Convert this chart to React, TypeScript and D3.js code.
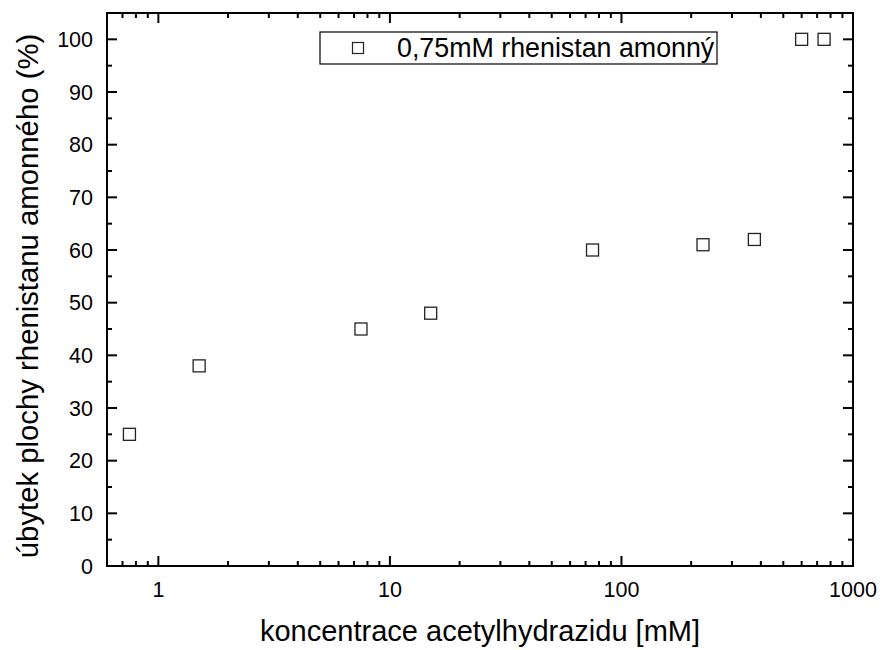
import React from "react";
import * as d3 from "d3";

const concentrations = [0.75, 1.5, 7.5, 15, 75, 225, 375, 600, 750];
const decreases = [25, 38, 45, 48, 60, 61, 62, 100, 100];
const yTicks = [0, 10, 20, 30, 40, 50, 60, 70, 80, 90, 100];
const xTickLabels = [1, 10, 100, 1000];
const legendLabel = "0,75mM rhenistan amonný";
const xTitle = "koncentrace acetylhydrazidu [mM]";
const yTitle = "úbytek plochy rhenistanu amonného (%)";

export default function App() {
  const W = 882, H = 650;
  const L = 107, R = 853, T = 13, B = 566;
  const x = d3.scaleLog().domain([0.6, 1000]).range([L, R]);
  const y = d3.scaleLinear().domain([0, 105]).range([B, T]);
  const font = "'Liberation Sans', Arial, sans-serif";

  const minorX: number[] = [];
  for (let d = 0.1; d < 1000; d *= 10) {
    for (let k = 2; k <= 9; k++) {
      const v = +(d * k).toPrecision(3);
      if (v >= 0.6 && v <= 1000) minorX.push(v);
    }
  }
  const minorY = d3.range(5, 105, 10);
  const ms = 12;

  return (
    <svg width={W} height={H} style={{ display: "block", position: "absolute", left: 0, top: 0 }}>
      <rect x={0} y={0} width={W} height={H} fill="#fff" />
      {xTickLabels.map((v) => (
        <g key={"xt" + v}>
          <line x1={x(v)} x2={x(v)} y1={B} y2={B - 10} stroke="#000" strokeWidth={2} />
          <line x1={x(v)} x2={x(v)} y1={T} y2={T + 10} stroke="#000" strokeWidth={2} />
          <text x={x(v)} y={597} textAnchor="middle" fontFamily={font} fontSize={21.5}>{v}</text>
        </g>
      ))}
      {minorX.map((v) => (
        <g key={"xm" + v}>
          <line x1={x(v)} x2={x(v)} y1={B} y2={B - 5} stroke="#000" strokeWidth={2} />
          <line x1={x(v)} x2={x(v)} y1={T} y2={T + 5} stroke="#000" strokeWidth={2} />
        </g>
      ))}
      {yTicks.map((v) => (
        <g key={"yt" + v}>
          <line x1={L} x2={L + 10} y1={y(v)} y2={y(v)} stroke="#000" strokeWidth={2} />
          <line x1={R} x2={R - 10} y1={y(v)} y2={y(v)} stroke="#000" strokeWidth={2} />
          <text x={L - 14} y={y(v) + 7.5} textAnchor="end" fontFamily={font} fontSize={21.5}>{v}</text>
        </g>
      ))}
      {minorY.map((v) => (
        <g key={"ym" + v}>
          <line x1={L} x2={L + 5} y1={y(v)} y2={y(v)} stroke="#000" strokeWidth={2} />
          <line x1={R} x2={R - 5} y1={y(v)} y2={y(v)} stroke="#000" strokeWidth={2} />
        </g>
      ))}
      <rect x={L} y={T} width={R - L} height={B - T} fill="none" stroke="#000" strokeWidth={2} />
      {concentrations.map((c, i) => (
        <rect key={"p" + i} x={x(c) - ms / 2} y={y(decreases[i]) - ms / 2} width={ms} height={ms}
          fill="none" stroke="#222" strokeWidth={1.3} />
      ))}
      <rect x={320} y={32} width={397} height={32} fill="#fff" stroke="#000" strokeWidth={1.2} />
      <rect x={358 - 5.5} y={48 - 5.5} width={11} height={11} fill="none" stroke="#222" strokeWidth={1.2} />
      <text x={397} y={57} fontFamily={font} fontSize={26.8}>{legendLabel}</text>
      <text x={480} y={641} textAnchor="middle" fontFamily={font} fontSize={29}>{xTitle}</text>
      <text transform={`translate(38, 296) rotate(-90)`} textAnchor="middle" fontFamily={font} fontSize={29.3}>{yTitle}</text>
    </svg>
  );
}
